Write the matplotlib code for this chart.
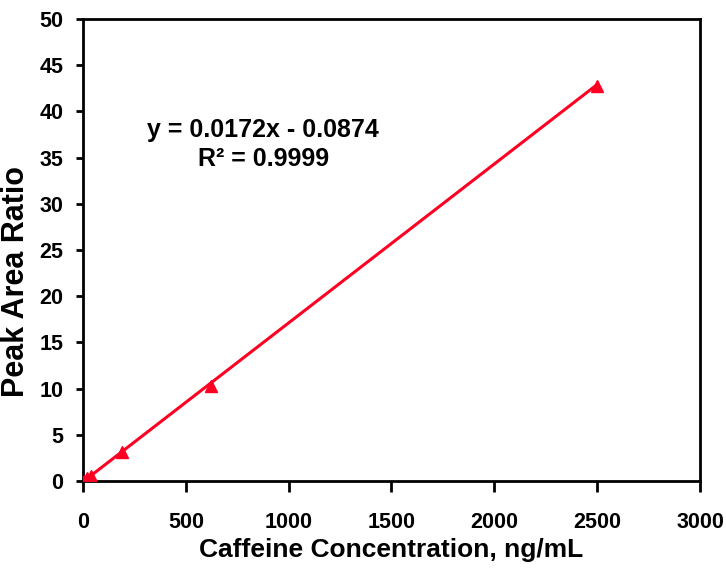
import numpy as np
import matplotlib.pyplot as plt

plt.rcParams['font.family'] = ['Liberation Sans', 'DejaVu Sans']
plt.rcParams['font.weight'] = 'bold'

conc = [5, 20, 39, 190, 620, 2500]
ratio = [0.05, 0.28, 0.55, 3.15, 10.3, 42.8]
slope = 0.0172
intercept = -0.0874

fig = plt.figure(figsize=(7.26, 5.84), dpi=100)
ax = fig.add_axes([0.1143, 0.1764, 0.8499, 0.791])

xfit = np.array([min(conc), max(conc)])
ax.plot(xfit, slope * xfit + intercept, color='#ff0022', lw=2.2, zorder=2)
ax.plot(conc, ratio, '^', color='#ff0022', ms=9, zorder=3)

ax.set_xlim(0, 3000)
ax.set_ylim(0, 50)
ax.set_xticks(range(0, 3001, 500))
ax.set_yticks(range(0, 51, 5))
ax.tick_params(top=False, right=False, direction='out', width=2, labelsize=15.5)
ax.tick_params(axis='x', length=8, pad=14)
ax.tick_params(axis='y', length=5, pad=9)
for lab in ax.get_xticklabels() + ax.get_yticklabels():
    lab.set_fontweight('bold')
for s in ax.spines.values():
    s.set_linewidth(2)

ax.set_xlabel('Caffeine Concentration, ng/mL', fontsize=19, fontweight='bold', labelpad=4)
ax.set_ylabel('Peak Area Ratio', fontsize=22, fontweight='bold')
ax.yaxis.set_label_coords(-0.085, 0.431)

ax.text(0.292, 0.729, 'y = 0.0172x - 0.0874\nR² = 0.9999', transform=ax.transAxes,
        ha='center', va='center', fontsize=18, fontweight='bold', linespacing=1.28)

fig.savefig('out.png', dpi=100)
